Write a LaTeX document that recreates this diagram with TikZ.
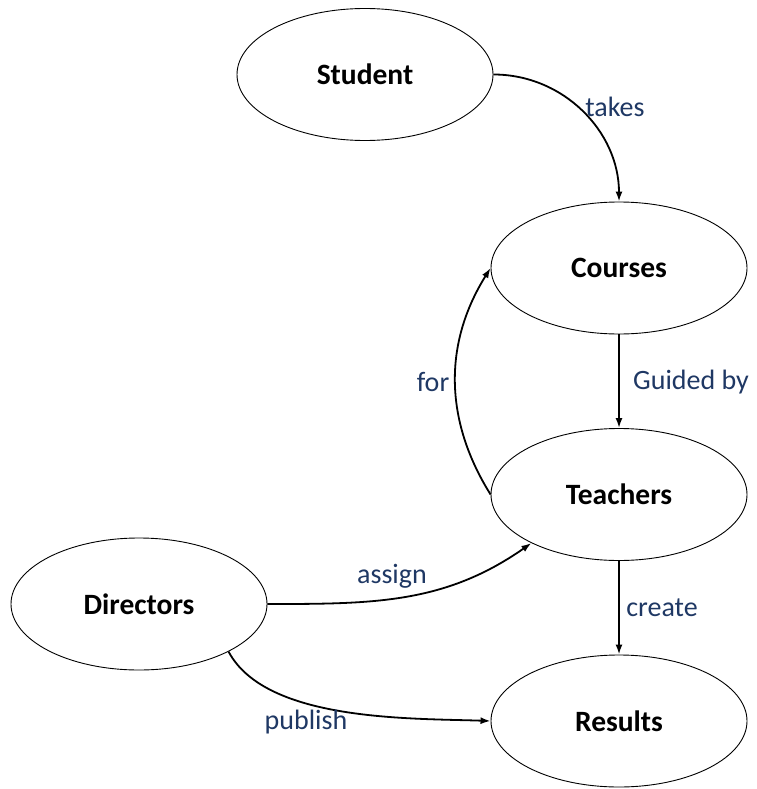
\documentclass[tikz,border=0pt]{standalone}
\usepackage{fontspec}
\setmainfont{Carlito}
\usetikzlibrary{shapes.geometric,arrows.meta}
\definecolor{lblblue}{RGB}{31,56,100}
\tikzset{
  ent/.style={ellipse,draw=black,line width=0.9pt,minimum width=256pt,minimum height=132pt,inner sep=0pt,font=\fontsize{29.5}{34}\selectfont\bfseries},
  lbl/.style={text=lblblue,font=\fontsize{28}{32}\selectfont,inner sep=0pt},
  conn/.style={draw=black,line width=1.8pt,-{Latex[length=10pt,width=7pt]}}
}
\begin{document}
\begin{tikzpicture}[x=1pt,y=1pt]
\useasboundingbox (0,0) rectangle (756,-789);
\node[ent] (S) at (365,-74.5) {Student};
\node[ent] (C) at (619,-268) {Courses};
\node[ent] (T) at (619,-494.5) {Teachers};
\node[ent] (D) at (139,-604) {Directors};
\node[ent] (R) at (619,-721) {Results};
\draw[conn] (S.east) to[out=0,in=90] (C.north);
\draw[conn] (C.south) -- (T.north);
\draw[conn] (T.west) to[out=122,in=238] (C.west);
\draw[conn] (D.east) to[out=0,in=215] (T.209);
\draw[conn] (T.south) -- (R.north);
\draw[conn] (D.332) to[out=-62,in=178,looseness=0.75] (R.west);
\node[lbl] (l1) at (615,-107) {takes};
\node[lbl] (l2) at (691,-382) {Guided by};
\node[lbl] (l3) at (433,-382) {for};
\node[lbl] (l4) at (392,-576) {assign};
\node[lbl] (l5) at (662,-608) {create};
\node[lbl] (l6) at (306,-722) {publish};
\end{tikzpicture}
\end{document}
